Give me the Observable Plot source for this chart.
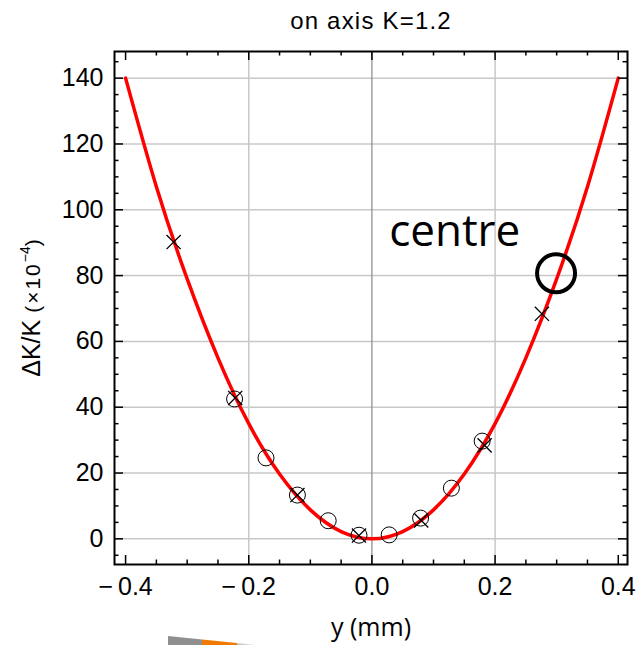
<!DOCTYPE html>
<html><head><meta charset="utf-8">
<script src="https://cdn.jsdelivr.net/npm/d3@7"></script>
<script src="https://cdn.jsdelivr.net/npm/@observablehq/plot@0.6"></script>
<style>
body{margin:0;background:#fff;}
#wrap{position:relative;width:636px;height:645px;overflow:hidden;}
#smudge{position:absolute;left:168px;top:636px;width:89px;height:9px;
 background:linear-gradient(to right,#8f8f8f 0,#8f8f8f 38%,#f07a00 38%,#f07a00 77%,#c4c4c4 77%,#e6e6e6 100%);
 clip-path:polygon(0 0,100% 100%,0 100%);}
</style></head><body><div id="wrap"><div id="smudge"></div></div>
<script>
// ---- text ----
const title = "on axis K=1.2";
const xLabel = "y (mm)";
const yLabel = "ΔK/K (×10⁻⁴)";
const annotationText = "centre";

// ---- ticks ----
const xTicks = [-0.4, -0.2, 0, 0.2, 0.4];
const xMinor = [-0.35, -0.3, -0.25, -0.15, -0.1, -0.05, 0.05, 0.1, 0.15, 0.25, 0.3, 0.35];
const xGrid = [-0.2, 0.2];
const yTicks = [0, 20, 40, 60, 80, 100, 120, 140];
const yMinor = [-5, 5, 10, 15, 25, 30, 35, 45, 50, 55, 65, 70, 75, 85, 90, 95, 105, 110, 115, 125, 130, 135, 145];

// ---- red fitted curve ----
const curveX = [-0.4, -0.35, -0.3, -0.25, -0.2, -0.15, -0.1, -0.05, 0, 0.05, 0.1, 0.15, 0.2, 0.25, 0.3, 0.35, 0.4];
const curveY = [140, 107, 79, 55, 35, 19.7, 8.8, 2.2, 0, 2.2, 8.8, 19.7, 35, 55, 79, 107, 140];

// ---- open circles ----
const circleX = [-0.223, -0.172, -0.121, -0.071, -0.021, 0.028, 0.079, 0.129, 0.179];
const circleY = [42.5, 24.6, 13.3, 5.5, 1.1, 1.2, 6.3, 15.4, 29.7];

// ---- crosses ----
const crossX = [-0.322, -0.222, -0.121, -0.021, 0.080, 0.183, 0.276];
const crossY = [90.2, 42.8, 13.3, 1.0, 5.6, 28.4, 68.4];

// ---- centre marker and its label ----
const centreX = [0.299];
const centreY = [80.7];
const labelX = [0.028];
const labelY = [93.3];

const curve = curveX.map((x, i) => ({x, y: curveY[i]}));
const circles = circleX.map((x, i) => ({x, y: circleY[i]}));
const crosses = crossX.map((x, i) => ({x, y: crossY[i]}));
const centre = centreX.map((x, i) => ({x, y: centreY[i]}));
const label = labelX.map((x, i) => ({x, y: labelY[i], text: annotationText}));

const W = 636, H = 645, mL = 114, mR = 9, mT = 51, mB = 81;
const fw = W - mL - mR, fh = H - mT - mB;
const majorLen = 9, minorLen = 4.5;
const fmt = d => d < 0 ? "\u2212\u2009" + Math.abs(d).toFixed(1) : d.toFixed(1);

const plot = Plot.plot({
  width: W, height: H,
  marginLeft: mL, marginRight: mR, marginTop: mT, marginBottom: mB,
  style: {fontFamily: "'Liberation Sans', Arial, sans-serif", fontSize: "25px", background: "transparent", overflow: "visible"},
  x: {domain: [-0.418, 0.415]},
  y: {domain: [-7.8, 148.1]},
  marks: [
    Plot.ruleY(yTicks, {stroke: "#c8c8c8", strokeWidth: 1.5}),
    Plot.ruleX(xGrid, {stroke: "#c8c8c8", strokeWidth: 1.5}),
    Plot.ruleX([0], {stroke: "#8a8a8a", strokeWidth: 1.2}),
    Plot.line(curve, {x: "x", y: "y", stroke: "#ff0000", strokeWidth: 3.5, curve: "natural"}),
    Plot.dot(circles, {x: "x", y: "y", r: 8, stroke: "black", strokeWidth: 1, fill: "none"}),
    Plot.dot(crosses, {x: "x", y: "y", symbol: "times", r: 6.5, stroke: "black", strokeWidth: 1.3}),
    Plot.dot(centre, {x: "x", y: "y", r: 19, stroke: "black", strokeWidth: 4, fill: "none"}),
    Plot.text(label, {x: "x", y: "y", text: "text", textAnchor: "start", lineAnchor: "middle",
      fontFamily: "'Open Sans', sans-serif", fontSize: 44, fill: "black"}),
    // inward ticks, all four sides
    Plot.tickX(xTicks, {x: d => d, insetTop: fh - majorLen, stroke: "black", strokeWidth: 1.5}),
    Plot.tickX(xMinor, {x: d => d, insetTop: fh - minorLen, stroke: "black", strokeWidth: 1.5}),
    Plot.tickX(xTicks, {x: d => d, insetBottom: fh - majorLen, stroke: "black", strokeWidth: 1.5}),
    Plot.tickX(xMinor, {x: d => d, insetBottom: fh - minorLen, stroke: "black", strokeWidth: 1.5}),
    Plot.tickY(yTicks, {y: d => d, insetRight: fw - majorLen, stroke: "black", strokeWidth: 1.5}),
    Plot.tickY(yMinor, {y: d => d, insetRight: fw - minorLen, stroke: "black", strokeWidth: 1.5}),
    Plot.tickY(yTicks, {y: d => d, insetLeft: fw - majorLen, stroke: "black", strokeWidth: 1.5}),
    Plot.tickY(yMinor, {y: d => d, insetLeft: fw - minorLen, stroke: "black", strokeWidth: 1.5}),
    Plot.frame({stroke: "black", strokeWidth: 2}),
    Plot.axisX({ticks: xTicks, tickSize: 0, tickPadding: 13, tickFormat: fmt, label: null, fill: "black"}),
    Plot.axisY({ticks: yTicks, tickSize: 0, tickPadding: 11, tickFormat: d => String(d), label: null, fill: "black"}),
    Plot.text([title], {frameAnchor: "top", dy: -30, lineAnchor: "middle", textAnchor: "middle", fontSize: 24, fill: "black"}),
    Plot.text([xLabel], {frameAnchor: "bottom", dy: 63, lineAnchor: "middle", textAnchor: "middle",
      fontFamily: "'Open Sans', sans-serif", fontSize: 25, fill: "black"}),
    Plot.text([yLabel], {frameAnchor: "left", dx: -83, rotate: -90, lineAnchor: "middle", textAnchor: "middle", fontSize: 25, fill: "black"})
  ]
});

// title spacing
d3.select(plot).selectAll("text").filter(function() { return this.textContent === title; })
  .attr("letter-spacing", 1.2);

// mixed-size y label
d3.select(plot).selectAll("text").filter(function() { return this.textContent === yLabel; })
  .each(function() {
    const t = d3.select(this);
    t.text(null);
    t.append("tspan").attr("font-size", 25).text("ΔK/K ");
    t.append("tspan").attr("font-size", 21).attr("letter-spacing", 2).text("(×10");
    t.append("tspan").attr("font-size", 14).attr("dy", -10).text("\u22124");
    t.append("tspan").attr("font-size", 21).attr("dy", 10).text(")");
  });

document.getElementById("wrap").appendChild(plot);
</script>
</body></html>
